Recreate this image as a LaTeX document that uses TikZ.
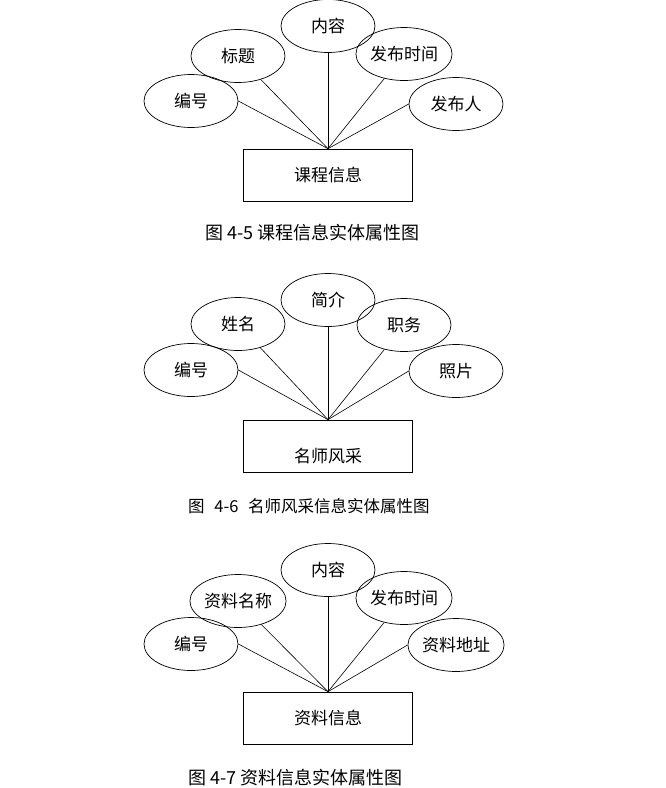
\documentclass[tikz,border=0pt]{standalone}
\usepackage{fontspec}
\setmainfont{Noto Sans CJK SC}
\usetikzlibrary{shapes.geometric}

\begin{document}
\begin{tikzpicture}[
  x=1pt, y=-1pt,
  attr/.style={draw, ellipse, line width=0.7pt, minimum width=94pt, minimum height=53pt,
               inner sep=0pt, font=\fontsize{17}{19}\selectfont},
  ent/.style={draw, rectangle, line width=0.7pt, minimum width=169pt, minimum height=52pt,
              inner sep=0pt, font=\fontsize{17}{19}\selectfont},
  lnk/.style={line width=0.6pt},
  figcap/.style={anchor=west, inner sep=0pt, font=\fontsize{18}{20}\selectfont},
]
\useasboundingbox (0,0) rectangle (666,788);

\node[attr] (kcnr) at (328,26)  {内容};
\node[attr] (kcbt) at (238,56)  {标题};
\node[attr] (kcbh) at (191,101) {编号};
\node[attr] (kcsj) at (404,54)  {发布时间};
\node[attr] (kcr)  at (456,104) {发布人};
\node[ent]  (kc)   at (328,175) {课程信息};
\draw[lnk] (kcbh.east) -- (kc.north);
\draw[lnk] (kcbt) -- (kc.north);
\draw[lnk] (kcnr) -- (kc.north);
\draw[lnk] (kcsj) -- (kc.north);
\draw[lnk] (kcr.west) -- (kc.north);
\node[figcap] (kccap) at (205,233) {图 4-5 课程信息实体属性图};

\node[attr] (msjj) at (328,300) {简介};
\node[attr] (msxm) at (238,324) {姓名};
\node[attr] (msbh) at (191,370) {编号};
\node[attr] (mszw) at (404,325) {职务};
\node[attr] (mszp) at (456,371) {照片};
\node[ent, text height=33pt, text depth=0pt] (ms) at (328,446) {名师风采};
\draw[lnk] (msbh.east) -- (ms.north);
\draw[lnk] (msxm) -- (ms.north);
\draw[lnk] (msjj) -- (ms.north);
\draw[lnk] (mszw) -- (ms.north);
\draw[lnk] (mszp.west) -- (ms.north);
\node[figcap, font=\fontsize{16.5}{19}\selectfont] (mscap) at (188,506)
  {图\hspace{6pt} 4-6\hspace{6pt} 名师风采信息实体属性图};

\node[attr] (zlnr) at (328,570) {内容};
\node[attr] (zlmc) at (238,601) {资料名称};
\node[attr] (zlbh) at (191,644) {编号};
\node[attr] (zlsj) at (404,598) {发布时间};
\node[attr] (zldz) at (456,645) {资料地址};
\node[ent]  (zl)   at (328,718) {资料信息};
\draw[lnk] (zlbh.east) -- (zl.north);
\draw[lnk] (zlmc) -- (zl.north);
\draw[lnk] (zlnr) -- (zl.north);
\draw[lnk] (zlsj) -- (zl.north);
\draw[lnk] (zldz.west) -- (zl.north);
\node[figcap] (zlcap) at (188,778) {图 4-7 资料信息实体属性图};
\end{tikzpicture}
\end{document}
